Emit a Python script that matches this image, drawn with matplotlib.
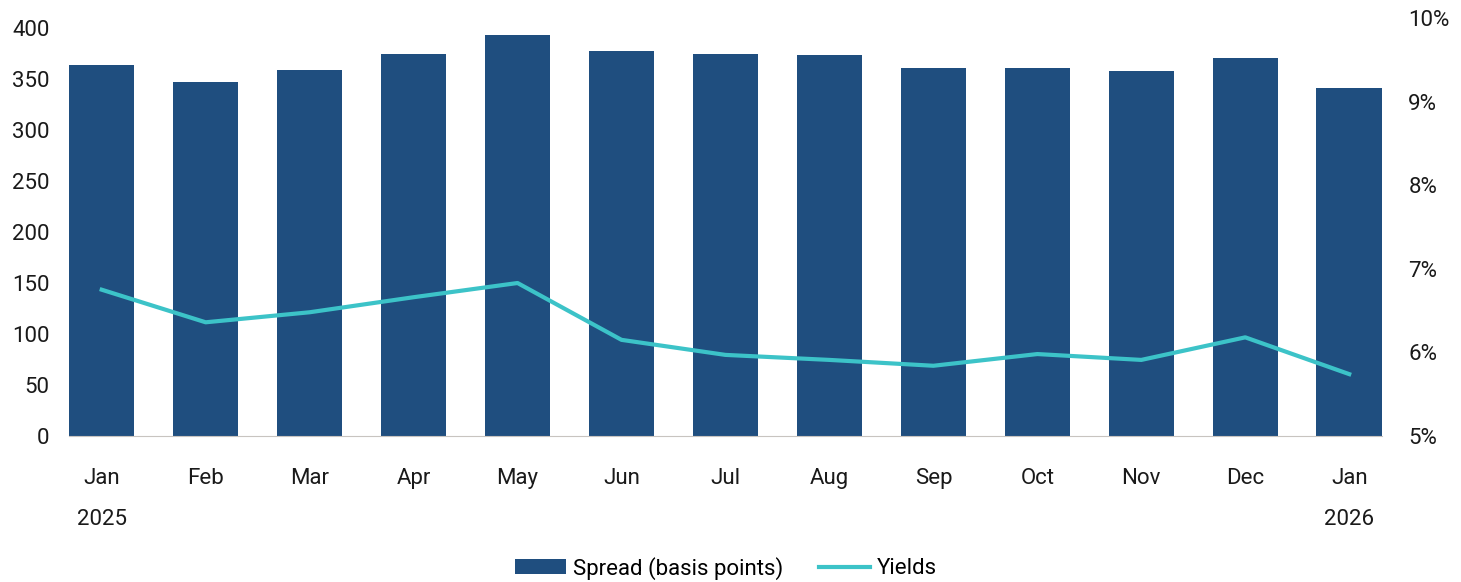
import matplotlib
matplotlib.use("Agg")
import matplotlib.pyplot as plt
from matplotlib.ticker import FuncFormatter

plt.rcParams['font.family'] = ['Roboto', 'DejaVu Sans']

months = ["Jan", "Feb", "Mar", "Apr", "May", "Jun", "Jul", "Aug",
          "Sep", "Oct", "Nov", "Dec", "Jan"]
years = {0: "2025", 12: "2026"}
spread = [364, 347, 359, 375, 393, 378, 375, 374, 361, 361, 358, 371, 341]
yields = [6.75, 6.36, 6.48, 6.66, 6.83, 6.15, 5.97, 5.91, 5.84, 5.98, 5.91, 6.18, 5.74]

BAR_COLOR = '#1F4E7F'
LINE_COLOR = '#3CC3C8'
TEXT_COLOR = '#1a1a1a'

fig = plt.figure(figsize=(14.61, 5.82), dpi=100)
ax = fig.add_axes([0.0472, 0.2509, 0.8987, 0.7181])
x = list(range(len(months)))

bars = ax.bar(x, spread, width=0.63, color=BAR_COLOR, label='Spread (basis points)', zorder=2)
ax.set_ylim(0, 410)
ax.set_xlim(-0.315, len(months) - 1 + 0.315)
ax.set_yticks(range(0, 401, 50))
ax.set_xticks(x)
ax.set_xticklabels(months)

# year labels under the first and last month
for i, yr in years.items():
    ax.annotate(yr, xy=(i, 0), xycoords=('data', 'axes fraction'),
                xytext=(0, -60), textcoords='offset points',
                ha='center', va='center', fontsize=16, color=TEXT_COLOR)

for side in ['top', 'right', 'left']:
    ax.spines[side].set_visible(False)
ax.spines['bottom'].set_color('#c8c4c0')
ax.tick_params(axis='both', length=0, labelsize=16, colors=TEXT_COLOR)
ax.tick_params(axis='x', pad=23)
ax.tick_params(axis='y', pad=14)

ax2 = ax.twinx()
line, = ax2.plot(x, yields, color=LINE_COLOR, linewidth=3, label='Yields', zorder=3)
ax2.set_ylim(5, 10)
ax2.set_yticks(range(5, 11))
ax2.yaxis.set_major_formatter(FuncFormatter(lambda v, p: f"{v:.0f}%"))
for side in ['top', 'right', 'left', 'bottom']:
    ax2.spines[side].set_visible(False)
ax2.tick_params(axis='y', length=0, labelsize=16, colors=TEXT_COLOR, pad=19)

fig.legend(handles=[bars, line], labels=['Spread (basis points)', 'Yields'],
           loc='center', bbox_to_anchor=(0.497, 0.024), ncol=2, frameon=False,
           fontsize=16, handlelength=2.3, handletextpad=0.3, columnspacing=1.6)

fig.savefig('out.png', dpi=100)
